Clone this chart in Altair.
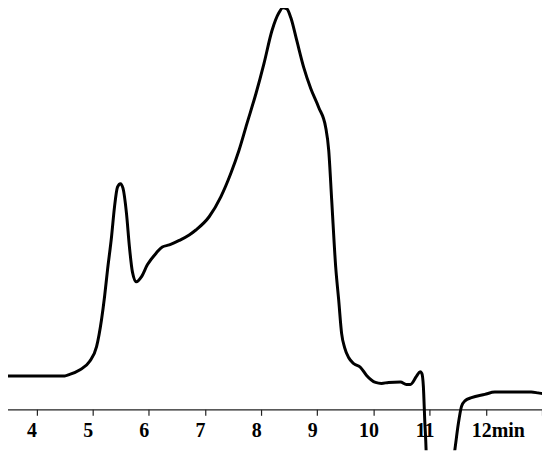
import altair as alt
import pandas as pd

# retention time (min) and detector signal (arbitrary units, baseline axis = 0)
time_min = [3.438, 4.059, 4.502, 4.591, 4.768, 4.945, 5.070, 5.158, 5.212, 5.265,
            5.336, 5.389, 5.442, 5.495, 5.540, 5.602, 5.655, 5.708, 5.779, 5.868,
            5.974, 6.134, 6.240, 6.365, 6.542, 6.719, 6.838, 7.074, 7.282, 7.459,
            7.606, 7.748, 7.908, 8.050, 8.192, 8.316, 8.387, 8.458, 8.529,
            8.635, 8.759, 8.883, 9.025, 9.149, 9.203, 9.256, 9.327, 9.380, 9.433,
            9.486, 9.557, 9.646, 9.770, 9.877, 10.036, 10.143, 10.267, 10.480, 10.586,
            10.657, 10.764, 10.829, 10.861, 10.888, 10.914, 10.936, 10.950, 11.189, 11.385,
            11.450, 11.509, 11.567, 11.628, 11.745, 11.982, 12.160, 12.514, 12.809, 12.928,
            12.986]
signal = [33.5, 33.5, 33.5, 35, 39.5, 48, 63, 90, 113, 140,
          173, 203, 223, 226.5, 222, 197, 163, 138, 128, 133,
          145, 157, 163, 165, 169.5, 175, 180, 193.3, 213.3, 236.7,
          260, 287, 317, 347, 380, 398, 403, 402, 393,
          370, 343, 322, 303, 283, 260, 210, 143, 110, 76,
          62, 52, 46, 42, 34, 27, 26, 27, 27.5, 25,
          25, 33, 37.7, 36, 23, -13, -40, -70, -290, -65,
          -40, -15, 3, 8.5, 11.7, 15, 17.3, 17.3, 17.3, 16.5,
          16]

tick_values = [4, 5, 6, 7, 8, 9, 10, 11, 12, 13]

df = pd.DataFrame({"t": time_min, "s": signal})

chart = alt.Chart(df).mark_line(
    color="black", strokeWidth=3, clip=True, interpolate="monotone",
    strokeCap="round", strokeJoin="round"
).encode(
    x=alt.X("t:Q",
            scale=alt.Scale(domain=[3.44, 13.0], nice=False, zero=False),
            axis=alt.Axis(
                title=None, values=tick_values, grid=False,
                offset=-41, tickSize=6, labelPadding=5,
                domainColor="#222", tickColor="#222", domainWidth=1.2, tickWidth=1.2,
                labelFont="Liberation Serif", labelFontWeight="bold", labelFontSize=20,
                labelColor="black", labelOverlap=False, labelFlush=False,
                labelExpr="datum.value == 12 ? '12min' : (datum.value == 13 ? '' : datum.label)",
                labelOffset={"condition": {"test": "datum.value == 12", "value": 12}, "value": -5},
            )),
    y=alt.Y("s:Q",
            scale=alt.Scale(domain=[-41, 410], nice=False, zero=False),
            axis=None),
).properties(
    width=539, height=451,
    padding={"left": -3, "top": -8, "right": 0, "bottom": 0},
    autosize=alt.AutoSizeParams(type="none"),
).configure_view(stroke=None)

chart.save("out.html", embed_options={"renderer": "svg", "actions": False})
